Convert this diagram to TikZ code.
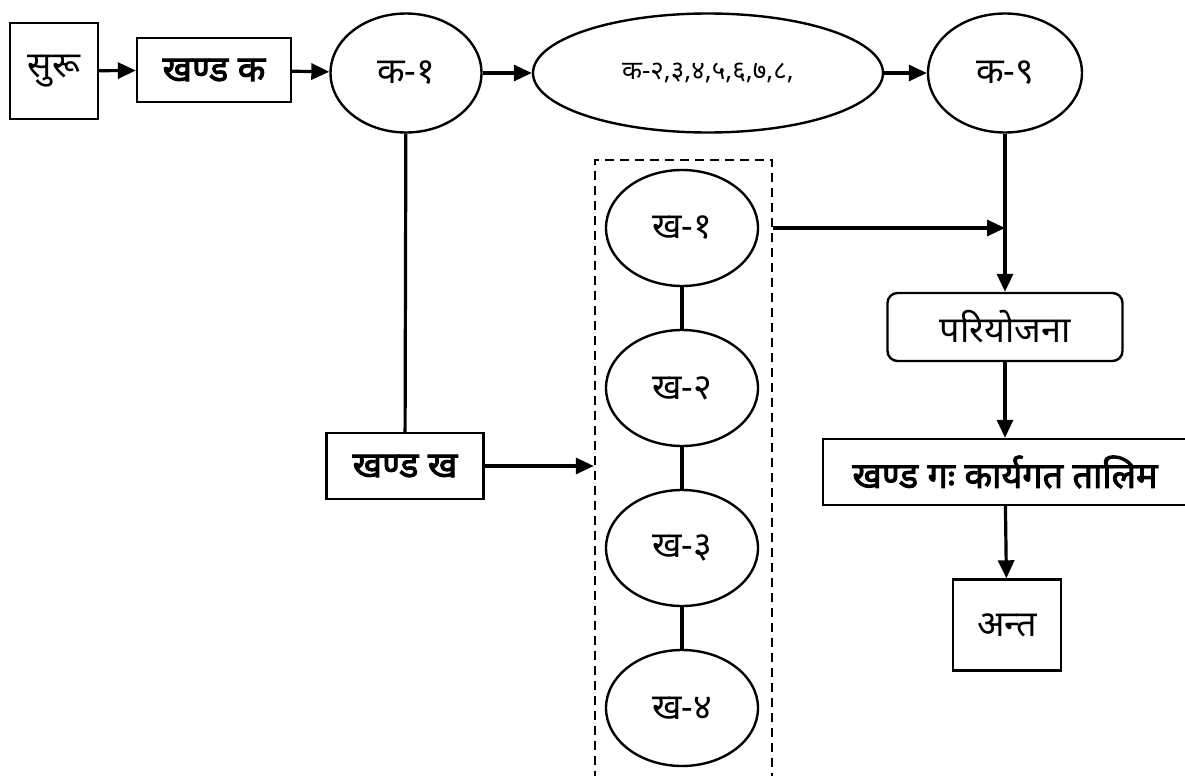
\documentclass[tikz,border=0pt]{standalone}
\usepackage{fontspec}
\newfontfamily\dev[Script=Devanagari]{Noto Sans}
\newfontfamily\devbold[Script=Devanagari,FakeBold=2.5]{Noto Sans}
\usetikzlibrary{shapes.geometric,arrows.meta}

\tikzset{
   every node/.style={font=\dev\fontsize{18}{21}\selectfont, inner sep=0pt},
   boxnode/.style={draw, line width=1.2pt, rectangle},
   ovalnode/.style={draw, line width=1.2pt, ellipse},
   boldtext/.style={font=\devbold\fontsize{18}{21}\selectfont},
   arr/.style={line width=1.6pt, -{Triangle[length=9pt,width=8pt]}},
   link/.style={line width=1.6pt}
}

\begin{document}
\begin{tikzpicture}[x=0.5pt, y=-0.5pt]
   \def\kw{76pt}
   \def\kh{58pt}
   \useasboundingbox (0,0) rectangle (1185,776);
   % khanda ka row
   \node[boxnode, minimum width=44pt, minimum height=48pt] (suru) at (54,71) {सुरू};
   \node[boxnode, boldtext, minimum width=77pt, minimum height=32pt] (khka) at (214,70) {खण्ड क};
   \node[ovalnode, minimum width=75.5pt, minimum height=59.5pt] (ka1) at (406,73) {क-१};
   \node[ovalnode, minimum width=175pt, minimum height=59.5pt, font=\dev\fontsize{13}{15}\selectfont] (kabaki) at (708,73) {क-२,३,४,५,६,७,८,};
   \node[ovalnode, minimum width=77pt, minimum height=59.5pt] (ka9) at (1005,73) {क-९};
   \draw[arr] (suru) -- (khka);
   \draw[arr] (khka) -- (ka1);
   \draw[arr] (ka1) -- (kabaki);
   \draw[arr] (kabaki) -- (ka9);
   % khanda kha
   \node[boxnode, boldtext, minimum width=78.5pt, minimum height=33pt] (khkha) at (405,466) {खण्ड ख};
   \node[draw, line width=1.2pt, dash pattern=on 4.5pt off 3pt, minimum width=88.5pt, minimum height=320pt] (khbox) at (683.5,480) {};
   \node[ovalnode, minimum width=\kw, minimum height=\kh] (kh1) at (682,228) {ख-१};
   \node[ovalnode, minimum width=\kw, minimum height=\kh] (kh2) at (682,388) {ख-२};
   \node[ovalnode, minimum width=\kw, minimum height=\kh] (kh3) at (682,548) {ख-३};
   \node[ovalnode, minimum width=\kw, minimum height=\kh] (kh4) at (682,708) {ख-४};
   \draw[link] (ka1) -- (khkha);
   \draw[arr] (khkha) -- (khkha -| khbox.west);
   \draw[link] (kh1) -- (kh2);
   \draw[link] (kh2) -- (kh3);
   \draw[link] (kh3) -- (kh4);
   % khanda ga
   \node[boxnode, rounded corners=5pt, minimum width=117.5pt, minimum height=34pt] (pariyo) at (1005,327) {परियोजना};
   \node[boxnode, boldtext, minimum width=182pt, minimum height=33pt] (khga) at (1005,472) {खण्ड गः कार्यगत तालिम};
   \node[boxnode, minimum width=54pt, minimum height=45.5pt] (anta) at (1007,625) {अन्त};
   \coordinate (milan) at (ka9.south |- kh1);
   \draw[arr] (kh1 -| khbox.east) -- (milan);
   \draw[arr] (ka9) -- (pariyo);
   \draw[arr] (pariyo) -- (khga);
   \draw[arr] (khga) -- (anta);
\end{tikzpicture}
\end{document}
